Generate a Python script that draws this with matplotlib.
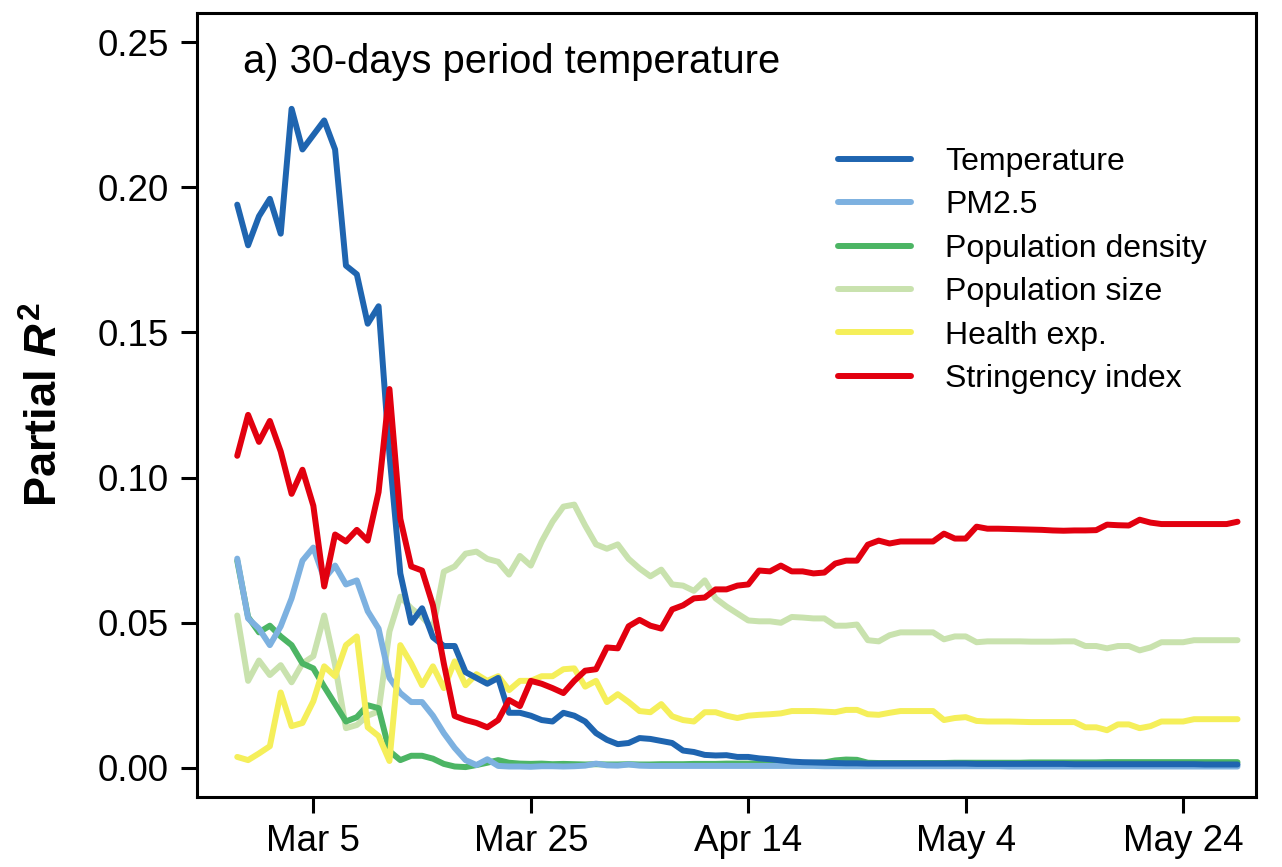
import numpy as np
import pandas as pd
import matplotlib

matplotlib.use("Agg")

import matplotlib.pyplot as plt

plt.rcParams["font.family"]=["Liberation Sans","DejaVu Sans"]
plt.rcParams["mathtext.fontset"]="custom"
plt.rcParams["mathtext.it"]="Liberation Sans:italic:bold"
plt.rcParams["mathtext.rm"]="Liberation Sans:bold"
plt.rcParams["mathtext.bf"]="Liberation Sans:bold"

# daily values, 27 Feb 2020 .. 29 May 2020
dates=pd.date_range("2020-02-27",periods=93,freq="D")

temperature=[
    0.194,0.180,0.190,0.196,0.184,0.227,0.213,0.218,0.223,0.213,
    0.173,0.170,0.153,0.159,0.108,0.067,0.050,0.055,0.045,0.042,
    0.042,0.033,0.031,0.029,0.031,0.019,0.019,0.018,0.0165,0.016,
    0.019,0.018,0.016,0.012,0.0097,0.0082,0.0086,0.0103,0.010,0.0093,
    0.0086,0.006,0.0055,0.0045,0.0043,0.0044,0.0038,0.0038,0.0033,0.003,
    0.0026,0.0022,0.002,0.0019,0.0018,0.0017,0.0016,0.0016,0.0015,0.0015,
    0.0015,0.0015,0.0015,0.0015,0.0015,0.0015,0.0015,0.0015,0.0014,0.0014,
    0.0014,0.0014,0.0014,0.0014,0.0014,0.0014,0.0014,0.0013,0.0013,0.0013,
    0.0013,0.0013,0.0013,0.0013,0.0013,0.0013,0.0013,0.0013,0.0013,0.0012,
    0.0012,0.0012,0.0012,
]

pm25=[
    0.0721,0.0515,0.048,0.0423,0.0488,0.0584,0.0714,0.0759,0.0652,0.0697,
    0.0632,0.0646,0.054,0.048,0.031,0.0258,0.0227,0.0227,0.018,0.012,
    0.0069,0.0027,0.001,0.003,0.0007,0.0005,0.0005,0.0004,0.0006,0.0006,
    0.0005,0.0006,0.0008,0.0015,0.0009,0.0008,0.0012,0.0008,0.0007,0.0007,
    0.0007,0.0007,0.0007,0.0007,0.0007,0.0007,0.0007,0.0007,0.0007,0.0007,
    0.0007,0.0007,0.0007,0.0007,0.0006,0.0006,0.0006,0.0006,0.0006,0.0006,
    0.0006,0.0006,0.0006,0.0006,0.0006,0.0006,0.0006,0.0006,0.0006,0.0006,
    0.0006,0.0005,0.0005,0.0005,0.0005,0.0005,0.0005,0.0005,0.0005,0.0005,
    0.0005,0.0005,0.0005,0.0005,0.0005,0.0005,0.0005,0.0005,0.0005,0.0005,
    0.0005,0.0005,0.0005,
]

pop_density=[
    0.0714,0.052,0.0467,0.049,0.0453,0.0423,0.036,0.0343,0.028,0.022,
    0.016,0.0175,0.0216,0.0206,0.0058,0.0027,0.0042,0.0042,0.0032,0.0014,
    0.0005,0.0003,0.001,0.0018,0.0027,0.0018,0.0015,0.0014,0.0015,0.0013,
    0.0014,0.0013,0.0012,0.0013,0.0012,0.0012,0.0013,0.0012,0.0012,0.0013,
    0.0013,0.0013,0.0014,0.0014,0.0014,0.0015,0.0015,0.0015,0.0016,0.0016,
    0.0016,0.0017,0.0017,0.0018,0.0019,0.0026,0.0029,0.0028,0.0018,0.0017,
    0.0017,0.0017,0.0017,0.0017,0.0017,0.0017,0.0018,0.0018,0.0018,0.0018,
    0.0018,0.0018,0.0018,0.0019,0.0019,0.0019,0.0019,0.0019,0.0019,0.0019,
    0.002,0.002,0.002,0.002,0.002,0.002,0.002,0.002,0.002,0.002,
    0.002,0.002,0.002,
]

pop_size=[
    0.0525,0.030,0.037,0.032,0.0354,0.0295,0.036,0.0385,0.0525,0.0354,
    0.0137,0.0148,0.018,0.0195,0.047,0.059,0.055,0.052,0.048,0.0676,
    0.0694,0.0738,0.0745,0.072,0.071,0.0666,0.073,0.0697,0.078,0.0848,
    0.090,0.0907,0.0835,0.077,0.0755,0.077,0.072,0.0687,0.066,0.0683,
    0.0632,0.0628,0.061,0.0646,0.0584,0.0556,0.0532,0.0508,0.0505,0.0505,
    0.050,0.052,0.0518,0.0515,0.0515,0.049,0.049,0.0494,0.044,0.0436,
    0.0457,0.0467,0.0467,0.0467,0.0467,0.0443,0.0453,0.0453,0.0433,0.0436,
    0.0436,0.0436,0.0436,0.0435,0.0435,0.0435,0.0436,0.0436,0.042,0.042,
    0.0412,0.042,0.042,0.0405,0.0415,0.0433,0.0433,0.0433,0.044,0.044,
    0.044,0.044,0.044,
]

health_exp=[
    0.0038,0.0027,0.005,0.0075,0.026,0.0144,0.0155,0.023,0.035,0.0316,
    0.0423,0.0453,0.014,0.011,0.0024,0.0423,0.036,0.0285,0.035,0.0275,
    0.0367,0.0285,0.0323,0.030,0.0316,0.0268,0.030,0.030,0.0316,0.0316,
    0.034,0.0343,0.028,0.030,0.0227,0.0254,0.0227,0.0196,0.0192,0.022,
    0.0178,0.0165,0.016,0.0192,0.0192,0.018,0.0172,0.018,0.0183,0.0185,
    0.0188,0.0196,0.0196,0.0196,0.0194,0.0192,0.020,0.020,0.0185,0.0183,
    0.019,0.0196,0.0196,0.0196,0.0196,0.0165,0.0172,0.0175,0.0162,0.016,
    0.016,0.016,0.0159,0.0158,0.0158,0.0158,0.0158,0.0158,0.014,0.014,
    0.013,0.015,0.015,0.0137,0.0144,0.016,0.016,0.016,0.0168,0.0168,
    0.0168,0.0168,0.0168,
]

stringency=[
    0.1075,0.1216,0.1123,0.1195,0.109,0.0944,0.1027,0.0903,0.0625,0.0804,
    0.078,0.082,0.0783,0.095,0.1305,0.0858,0.0694,0.068,0.056,0.036,
    0.0179,0.0165,0.0155,0.014,0.0165,0.0234,0.0213,0.030,0.029,0.0275,
    0.0258,0.030,0.0335,0.034,0.0415,0.0412,0.0488,0.051,0.049,0.048,
    0.0546,0.056,0.0584,0.0587,0.0615,0.0615,0.0628,0.0632,0.068,0.0677,
    0.0697,0.0677,0.0677,0.067,0.0673,0.0704,0.0714,0.0714,0.0769,0.0783,
    0.0773,0.078,0.078,0.078,0.078,0.0807,0.079,0.079,0.0831,0.0824,
    0.0824,0.0823,0.0822,0.0821,0.082,0.0818,0.0817,0.0818,0.0818,0.0819,
    0.0838,0.0836,0.0835,0.0855,0.0845,0.084,0.084,0.084,0.084,0.084,
    0.084,0.084,0.0848,
]

labels=["Temperature","PM2.5","Population density","Population size","Health exp.","Stringency index"]
series=[temperature,pm25,pop_density,pop_size,health_exp,stringency]
colors=["#1f65b0","#7db1e0","#4cb564","#c9e2ae","#f5ef5a","#e2000f"]
zorders=[5,3,2,1,4,6]

tick_dates=pd.to_datetime(["2020-03-05","2020-03-25","2020-04-14","2020-05-04","2020-05-24"])
tick_labels=["Mar 5","Mar 25","Apr 14","May 4","May 24"]
y_ticks=[0.00,0.05,0.10,0.15,0.20,0.25]

fig=plt.figure(figsize=(12.82,8.67),dpi=100)
ax=fig.add_axes([197/1282,70/867,1059/1282,784/867])

for vals,lab,col,z in zip(series,labels,colors,zorders):
    ax.plot(
        dates,
        vals,
        color=col,
        linewidth=4.3,
        label=lab,
        zorder=z,
        solid_joinstyle="round",
        solid_capstyle="round"
    )

ax.set_xlim(dates[0]-pd.Timedelta(days=3.7),dates[0]+pd.Timedelta(days=93.7))
ax.set_ylim(-0.01,0.26)

ax.set_xticks(tick_dates)
ax.set_xticklabels(tick_labels)
ax.set_yticks(y_ticks)
ax.set_yticklabels([f"{v:.2f}" for v in y_ticks])

ax.tick_params(axis="both",direction="out",length=11.5,width=2.2,labelsize=26.5)
ax.tick_params(axis="y",pad=9)
ax.tick_params(axis="x",pad=8)

for sp in ax.spines.values():
    sp.set_linewidth(2.2)

ax.set_ylabel(r"Partial $R^2$",fontsize=32.5,fontweight="bold")
ax.yaxis.set_label_coords(-0.123,0.5)

ax.text(
    (243-197)/1059,
    (797-62)/784,
    "a) 30-days period temperature",
    transform=ax.transAxes,
    fontsize=28.7,
    va="center",
    ha="left"
)

leg=ax.legend(
    loc="upper left",
    bbox_to_anchor=(838/1282,(867-147)/867),
    bbox_transform=fig.transFigure,
    frameon=False,
    fontsize=23,
    handlelength=2.3,
    handletextpad=1.06,
    labelspacing=0.42,
    borderpad=0,
    borderaxespad=0
)

for line in leg.get_lines():
    line.set_linewidth(4.3)

fig.savefig("out.png",dpi=100)
